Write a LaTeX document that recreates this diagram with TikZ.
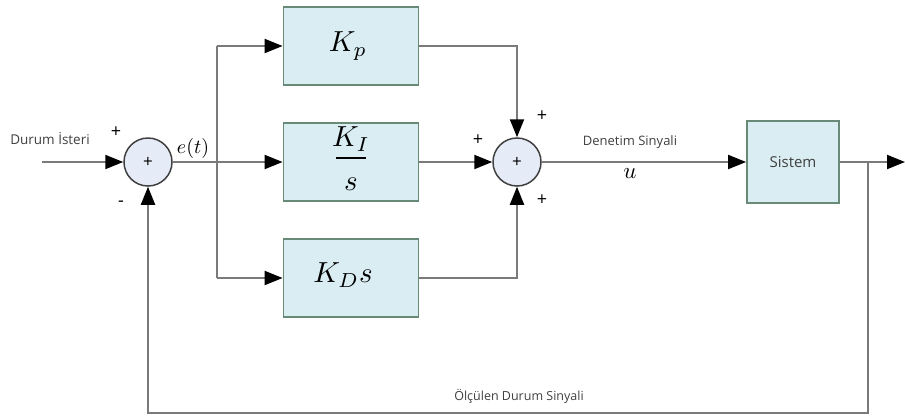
\documentclass[tikz,border=0pt]{standalone}
\usepackage{fontspec}
\setsansfont{Open Sans}
\usetikzlibrary{arrows.meta}

\definecolor{wire}{HTML}{7A7A7A}
\definecolor{boxfill}{HTML}{DAEDF3}
\definecolor{boxedge}{HTML}{6A8A78}
\definecolor{sumfill}{HTML}{E6ECF7}
\definecolor{sumedge}{HTML}{404040}
\definecolor{labelgray}{HTML}{404040}

\newcommand{\gainmath}[1]{\scalebox{2.9}{$#1$}}

\tikzset{
  wireline/.style={draw=wire, line width=2pt},
  arr/.style={wireline, -{Triangle[length=18pt,width=14pt,color=black]}},
  block/.style={rectangle, draw=boxedge, line width=1.8pt, fill=boxfill,
                minimum width=135pt, minimum height=78pt, inner sep=0pt},
  summer/.style={circle, draw=sumedge, line width=1.5pt, fill=sumfill,
                 minimum size=48pt, inner sep=0pt,
                 font=\sffamily\fontsize{17}{19}\selectfont},
  sig/.style={text=labelgray, font=\sffamily\fontsize{13}{15}\selectfont, inner sep=0pt},
  sign/.style={text=black, font=\sffamily\fontsize{18}{20}\selectfont, inner sep=0pt},
  mathlab/.style={inner sep=0pt},
}

\begin{document}
\begin{tikzpicture}[x=1pt, y=-1pt]
  \useasboundingbox (0,0) rectangle (905,416);

  % summing junctions
  \node[summer] (sum1) at (148,162) {+};
  \node[summer] (sum2) at (517,162) {+};

  % controller branches
  \node[block] (kp) at (351,46) {};
  \node[mathlab] (kplab) at (348,46) {\gainmath{K_p}};
  \node[block] (ki) at (351,162) {};
  \node[mathlab] (kinum) at (351,139) {\gainmath{K_I}};
  \node[mathlab] (kiden) at (351,184) {\gainmath{s}};
  \draw[line width=2.6pt] (336,158) -- (366,158);
  \node[block] (kd) at (351,278) {};
  \node[mathlab] (kdlab) at (343,275) {\gainmath{K_D s}};

  % plant
  \node[block, minimum width=92pt, minimum height=82pt] (sys) at (793,162)
       {\sffamily\fontsize{15}{17}\selectfont\color{labelgray}Sistem};

  % routing points
  \coordinate (in)  at (42,162);
  \coordinate (bt)  at (217,46);
  \coordinate (bb)  at (217,278);
  \coordinate (out) at (905,162);
  \coordinate (fb)  at (868,162);
  \coordinate (fbb) at (868,413);

  % forward path
  \draw[arr] (in) -- (sum1.west);
  \draw[arr] (sum1.east) -- (ki.west);
  \draw[wireline] (bt) -- (bb);
  \draw[arr] (bt) -- (kp.west);
  \draw[arr] (bb) -- (kd.west);
  \draw[arr] (kp.east) -| (sum2.north);
  \draw[arr] (ki.east) -- (sum2.west);
  \draw[arr] (kd.east) -| (sum2.south);
  \draw[arr] (sum2.east) -- (sys.west);
  \draw[arr] (sys.east) -- (out);

  % feedback path
  \draw[arr] (fb) -- (fbb) -| (sum1.south);

  % labels
  \node[sig, font=\sffamily\fontsize{13.5}{15}\selectfont] (ref) at (50,138) {Durum İsteri};
  \node[sign] (p1) at (116,132) {+};
  \node[sign] (m1) at (121,204) {-};
  \node[mathlab] (et) at (193,148) {\scalebox{2}{$e(t)$}};
  \node[sign] (p2) at (478,140) {+};
  \node[sign] (p3) at (542,116) {+};
  \node[sign] (p4) at (542,200) {+};
  \node[sig] (ctl) at (630,142) {Denetim Sinyali};
  \node[mathlab] (u) at (630,174) {\scalebox{2.3}{$u$}};
  \node[sig, font=\sffamily\fontsize{12.5}{15}\selectfont] (meas) at (519,396) {Ölçülen Durum Sinyali};
\end{tikzpicture}
\end{document}
